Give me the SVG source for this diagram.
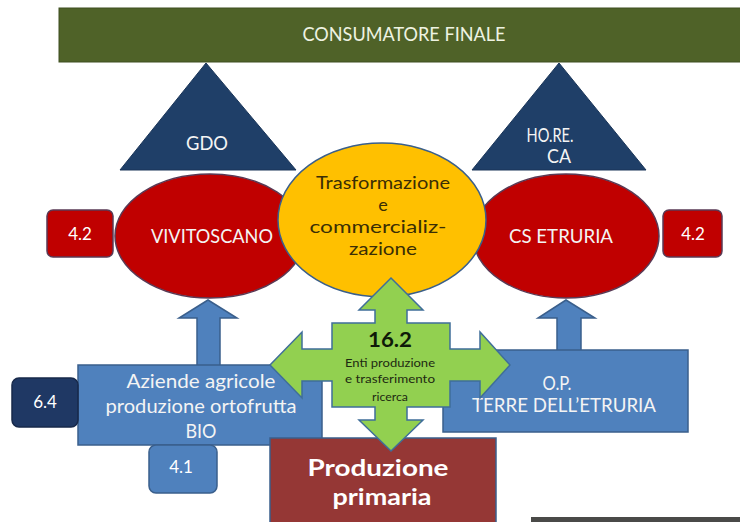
<svg xmlns="http://www.w3.org/2000/svg" width="740" height="522" viewBox="0 0 740 522">
<style>
  text { font-family: Lato, "Liberation Sans", sans-serif; text-anchor: middle; }
  .lbl { font-size: 19px; fill: #F4F4F4; }
  .num { font-size: 17px; fill: #FFFFFF; }
  .dark { font-size: 18px; fill: #3A2E05; }
  .small { font-size: 11px; fill: #1E2A12; }
  .big { font-size: 22px; font-weight: bold; fill: #FFFFFF; }
  .tri { fill: #1F3F68; stroke: #1A3558; stroke-width: 1; }
  .red { fill: #C00000; stroke: #5A3A55; stroke-width: 1.5; }
  .blue { fill: #4F81BD; stroke: #3A5F8C; stroke-width: 1.5; }
  .arrow { fill: #4F81BD; stroke: #3A5F8C; stroke-width: 1.5; }
</style>
<rect width="740" height="522" fill="#FFFFFF"/>

<g id="consumatore">
  <rect x="59" y="8" width="690" height="54" fill="#4F6228" stroke="#3F4F20" stroke-width="1"/>
  <text x="404" y="41" font-size="19" fill="#EEF3E2" textLength="203" lengthAdjust="spacingAndGlyphs">CONSUMATORE FINALE</text>
</g>

<g id="gdo">
  <polygon class="tri" points="206,63 296,170 120,170"/>
  <text class="lbl" x="207" y="150" textLength="42" lengthAdjust="spacingAndGlyphs">GDO</text>
</g>

<g id="horeca">
  <polygon class="tri" points="559,63 646,170 472,170"/>
  <text class="lbl" x="550" y="142" textLength="47" lengthAdjust="spacingAndGlyphs">HO.RE.</text>
  <text class="lbl" x="559" y="163" textLength="24" lengthAdjust="spacingAndGlyphs">CA</text>
</g>

<g id="vivitoscano">
  <ellipse class="red" cx="210" cy="236" rx="95" ry="62"/>
  <text class="lbl" x="212" y="243" textLength="122" lengthAdjust="spacingAndGlyphs">VIVITOSCANO</text>
</g>

<g id="cs-etruria">
  <ellipse class="red" cx="566" cy="236" rx="93" ry="62"/>
  <text class="lbl" x="561" y="243" textLength="104" lengthAdjust="spacingAndGlyphs">CS ETRURIA</text>
</g>

<g id="trasformazione">
  <ellipse cx="382" cy="220" rx="104" ry="77" fill="#FFC000" stroke="#3A5F8C" stroke-width="1.5"/>
  <text class="dark" x="383" y="189" textLength="134" lengthAdjust="spacingAndGlyphs">Trasformazione</text>
  <text class="dark" x="383" y="211">e</text>
  <text class="dark" x="378" y="233" textLength="137" lengthAdjust="spacingAndGlyphs">commercializ-</text>
  <text class="dark" x="383" y="255" textLength="68" lengthAdjust="spacingAndGlyphs">zazione</text>
</g>

<g id="m42-left">
  <rect class="red" x="47" y="210" width="66" height="47" rx="6"/>
  <text class="num" x="80" y="240">4.2</text>
</g>

<g id="m42-right">
  <rect class="red" x="663" y="210" width="59" height="47" rx="6"/>
  <text class="num" x="693" y="240">4.2</text>
</g>

<g id="connectors">
  <polygon class="arrow" points="208,300 237,318 220,318 220,366 197,366 197,318 179,318"/>
  <polygon class="arrow" points="566,300 595,318 581,318 581,351 557,351 557,318 538,318"/>
</g>

<g id="aziende">
  <rect class="blue" x="78" y="365" width="244" height="80"/>
  <text class="lbl" x="201" y="388" textLength="149" lengthAdjust="spacingAndGlyphs">Aziende agricole</text>
  <text class="lbl" x="201" y="413" textLength="191" lengthAdjust="spacingAndGlyphs">produzione ortofrutta</text>
  <text class="lbl" x="201" y="438" textLength="31" lengthAdjust="spacingAndGlyphs">BIO</text>
</g>

<g id="op-terre">
  <rect class="blue" x="443" y="350" width="245" height="82"/>
  <text class="lbl" x="557" y="390" textLength="29" lengthAdjust="spacingAndGlyphs">O.P.</text>
  <text class="lbl" x="564" y="412" textLength="184" lengthAdjust="spacingAndGlyphs">TERRE DELL’ETRURIA</text>
</g>

<g id="m64">
  <rect x="12" y="378" width="66" height="49" rx="7" fill="#1F3864" stroke="#17294A" stroke-width="1.5"/>
  <text class="num" x="45" y="408">6.4</text>
</g>

<g id="m41">
  <rect class="blue" x="149" y="445" width="68" height="48" rx="7"/>
  <text class="num" x="181" y="473" font-size="16">4.1</text>
</g>

<g id="produzione">
  <rect x="270" y="438" width="226" height="86" fill="#953735" stroke="#3A5F8C" stroke-width="1.5"/>
  <text class="big" x="378" y="476" textLength="141" lengthAdjust="spacingAndGlyphs">Produzione</text>
  <text class="big" x="382" y="505" textLength="99" lengthAdjust="spacingAndGlyphs">primaria</text>
</g>

<g id="m162">
  <polygon fill="#92D050" stroke="#3F6E99" stroke-width="1.5" points="391,278 423,310 407,310 407,323 450,323 450,349 480,349 480,332 510,365 480,398 480,381 450,381 450,407 407,407 407,420 423,420 391,451 359,420 375,420 375,407 332,407 332,381 302,381 302,398 270,365 302,332 302,349 332,349 332,323 375,323 375,310 359,310"/>
  <text x="390" y="347" font-size="20" font-weight="bold" fill="#0F1A08" textLength="44" lengthAdjust="spacingAndGlyphs">16.2</text>
  <text class="small" x="390" y="367" textLength="90" lengthAdjust="spacingAndGlyphs">Enti produzione</text>
  <text class="small" x="390" y="383" textLength="90" lengthAdjust="spacingAndGlyphs">e trasferimento</text>
  <text class="small" x="390" y="401" textLength="36" lengthAdjust="spacingAndGlyphs">ricerca</text>
</g>

<rect x="531" y="517" width="209" height="5" fill="#4A4A48"/>
</svg>
